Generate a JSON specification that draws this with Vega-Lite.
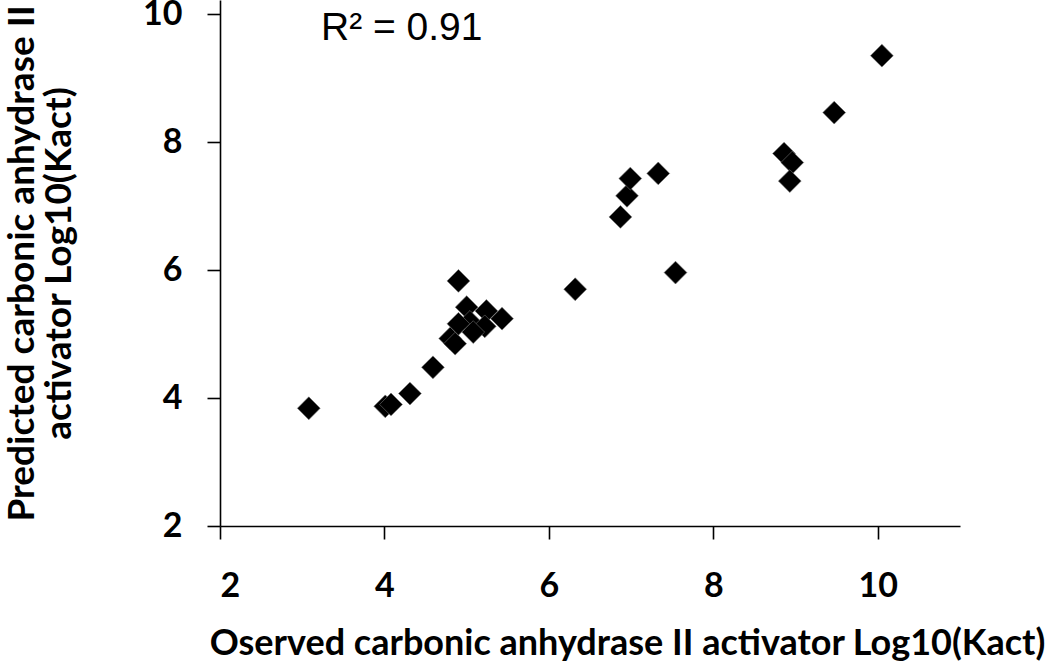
{
  "$schema": "https://vega.github.io/schema/vega-lite/v6.json",
  "width": 740,
  "height": 526,
  "autosize": "none",
  "padding": {"left": 220, "top": 0, "right": 90, "bottom": 145},
  "background": "white",
  "config": {
    "view": {"stroke": null},
    "font": "Lato",
    "axis": {
      "grid": false,
      "domainColor": "black",
      "domainWidth": 1.6,
      "tickColor": "black",
      "tickWidth": 1.6,
      "tickSize": 13,
      "labelColor": "black",
      "labelFont": "Lato",
      "labelFontWeight": "bold",
      "labelFontSize": 34,
      "titleColor": "black",
      "titleFont": "Lato",
      "titleFontWeight": "bold",
      "titleFontSize": 36
    }
  },
  "datasets": {
    "points": [
      {"observed": 3.08, "predicted": 3.84},
      {"observed": 4.01, "predicted": 3.87},
      {"observed": 4.08, "predicted": 3.9},
      {"observed": 4.31, "predicted": 4.07},
      {"observed": 4.59, "predicted": 4.48},
      {"observed": 4.8, "predicted": 4.93},
      {"observed": 4.86, "predicted": 4.85},
      {"observed": 4.9, "predicted": 5.83},
      {"observed": 5.0, "predicted": 5.42},
      {"observed": 5.24, "predicted": 5.36},
      {"observed": 5.43, "predicted": 5.24},
      {"observed": 5.04, "predicted": 5.19},
      {"observed": 4.9, "predicted": 5.16},
      {"observed": 5.22, "predicted": 5.12},
      {"observed": 5.08, "predicted": 5.03},
      {"observed": 6.32, "predicted": 5.7},
      {"observed": 7.54, "predicted": 5.96},
      {"observed": 6.87, "predicted": 6.83},
      {"observed": 6.95, "predicted": 7.16},
      {"observed": 6.99, "predicted": 7.43},
      {"observed": 7.33, "predicted": 7.51},
      {"observed": 8.86, "predicted": 7.82},
      {"observed": 8.96, "predicted": 7.68},
      {"observed": 8.93, "predicted": 7.39},
      {"observed": 9.47, "predicted": 8.46},
      {"observed": 10.05, "predicted": 9.35}
    ],
    "annotation": [
      {"observed": 4.21, "predicted": 9.79, "label": "R² = 0.91"}
    ]
  },
  "layer": [
    {
      "data": {"name": "points"},
      "mark": {"type": "point", "shape": "diamond", "filled": true, "size": 520, "color": "black", "opacity": 1, "stroke": "#707070", "strokeWidth": 0.6},
      "encoding": {
        "x": {
          "field": "observed",
          "type": "quantitative",
          "scale": {"domain": [2, 11], "nice": false, "zero": false},
          "axis": {
            "values": [2, 4, 6, 8, 10],
            "format": "d",
            "labelPadding": 30,
            "title": "Oserved carbonic anhydrase II activator Log10(Kact)",
            "titlePadding": 23,
            "titleX": 407,
            "titleAnchor": "middle"
          }
        },
        "y": {
          "field": "predicted",
          "type": "quantitative",
          "scale": {"domain": [2, 10.22], "nice": false, "zero": false},
          "axis": {
            "values": [2, 4, 6, 8, 10],
            "format": "d",
            "labelPadding": 25,
            "title": ["Predicted carbonic anhydrase II", "activator Log10(Kact)"],
            "titleFontSize": 37,
            "titlePadding": 64,
            "titleLineHeight": 37
          }
        }
      }
    },
    {
      "data": {"name": "annotation"},
      "mark": {"type": "text", "font": "Liberation Sans", "fontSize": 39, "color": "black", "align": "center", "baseline": "middle"},
      "encoding": {
        "x": {"field": "observed", "type": "quantitative"},
        "y": {"field": "predicted", "type": "quantitative"},
        "text": {"field": "label"}
      }
    }
  ]
}
